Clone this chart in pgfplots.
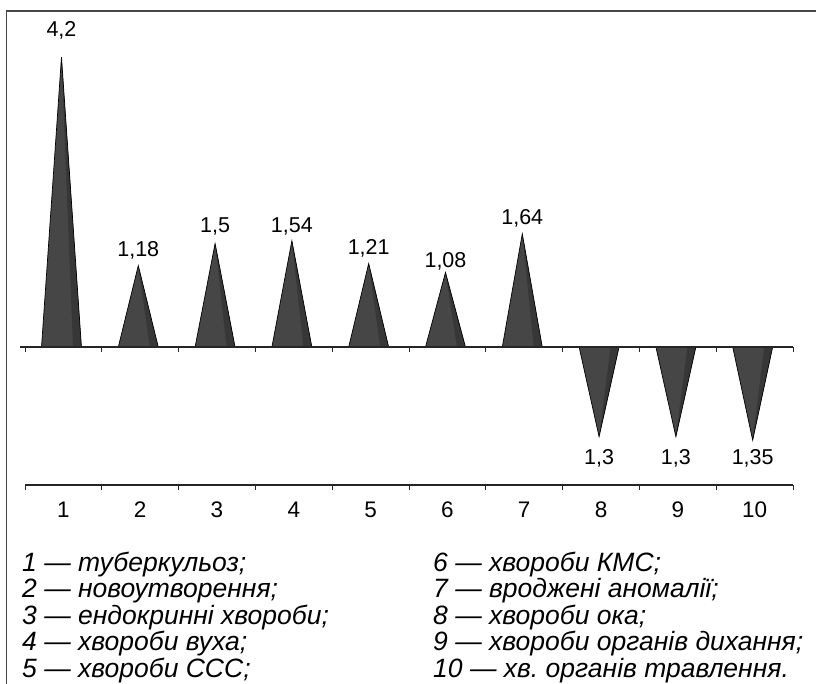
\documentclass[border=0pt]{standalone}
\usepackage{fontspec}
\setmainfont{Liberation Sans}
\usepackage{pgfplots}
\pgfplotsset{compat=1.18}
\frenchspacing

\definecolor{coneA}{RGB}{70,70,70}
\definecolor{coneB}{RGB}{55,55,55}
\definecolor{frame}{RGB}{70,70,70}

\newcommand{\valfont}{\fontsize{21.5}{24}\selectfont}
\newcommand{\legfont}{\fontsize{26.5}{28}\selectfont\itshape}

% #1 left, #2 apex x, #3 value, #4 start of dark side, #5 right
\newcommand{\cone}[5]{%
  \addplot[draw=none, fill=coneA] coordinates {(#1,0) (#2,#3) (#5,0)};
  \addplot[draw=none, fill=coneB] coordinates {(#4,0) (#2,#3) (#5,0)};
  \addplot[draw=black, line width=0.7pt] coordinates {(#1,0) (#2,#3) (#5,0)};
}

\begin{document}
\begin{tikzpicture}
\useasboundingbox (0,0) rectangle (816pt,683pt);
\draw[line width=1.6pt, frame] (6.5pt,-2pt) -- (6.5pt,672pt) -- (830pt,672pt);

\begin{axis}[
  at={(25pt,198pt)}, anchor=south west,
  scale only axis, width=768pt, height=476.1pt,
  xmin=0.5, xmax=10.5, ymin=-2, ymax=4.9,
  axis x line=bottom, axis y line=none,
  x axis line style={-, line width=1.4pt, black!85},
  xtick={1,2,3,4,5,6,7,8,9,10},
  xticklabels={1,2,3,4,5,6,7,8,9,10},
  major tick length=0pt,
  minor xtick={0.5,1.5,2.5,3.5,4.5,5.5,6.5,7.5,8.5,9.5,10.5},
  minor tick length=5pt, xtick align=outside,
  minor x tick style={line width=1pt, black!85},
  xticklabel style={font=\fontsize{22.5}{24}\selectfont, anchor=base, yshift=-32pt},
  clip=false,
]
\cone{0.715}{0.975}{4.2}{1.125}{1.235}
\cone{1.715}{1.975}{1.18}{2.125}{2.235}
\cone{2.715}{2.975}{1.5}{3.125}{3.235}
\cone{3.715}{3.975}{1.54}{4.125}{4.235}
\cone{4.715}{4.975}{1.21}{5.125}{5.235}
\cone{5.715}{5.975}{1.08}{6.125}{6.235}
\cone{6.715}{6.975}{1.64}{7.125}{7.235}
\cone{7.715}{7.975}{-1.3}{8.125}{8.235}
\cone{8.715}{8.975}{-1.3}{9.125}{9.235}
\cone{9.715}{9.975}{-1.35}{10.125}{10.235}

\node[anchor=base, yshift=21pt, font=\valfont] at (axis cs:0.975,4.2) {4,2};
\node[anchor=base, yshift=9.3pt, font=\valfont] at (axis cs:1.975,1.18) {1,18};
\node[anchor=base, yshift=11.3pt, font=\valfont] at (axis cs:2.975,1.5) {1,5};
\node[anchor=base, yshift=8.3pt, font=\valfont] at (axis cs:3.975,1.54) {1,54};
\node[anchor=base, yshift=8.8pt, font=\valfont] at (axis cs:4.975,1.21) {1,21};
\node[anchor=base, yshift=5.3pt, font=\valfont] at (axis cs:5.975,1.08) {1,08};
\node[anchor=base, yshift=9.6pt, font=\valfont] at (axis cs:6.975,1.64) {1,64};
\node[anchor=base, yshift=20pt, font=\valfont] at (axis cs:7.975,-2) {1,3};
\node[anchor=base, yshift=20pt, font=\valfont] at (axis cs:8.975,-2) {1,3};
\node[anchor=base, yshift=20pt, font=\valfont] at (axis cs:9.975,-2) {1,35};
\end{axis}

% baseline with its ticks
\begin{axis}[
  at={(25pt,336pt)}, anchor=south west,
  scale only axis, width=768pt, height=100pt,
  xmin=0.5, xmax=10.5, ymin=0, ymax=1,
  axis x line=bottom, axis y line=none,
  x axis line style={-, line width=1.4pt, black!85, shorten <=-5pt},
  xtick={0.5,1.5,2.5,3.5,4.5,5.5,6.5,7.5,8.5,9.5,10.5},
  xticklabels={,,,,,,,,,,,},
  xtick align=outside, major tick length=5pt,
  major x tick style={line width=1pt, black!85},
]
\end{axis}

\node[anchor=base west, inner sep=0pt, font=\legfont] at (22pt,112pt) {1 — туберкульоз;};
\node[anchor=base west, inner sep=0pt, font=\legfont] at (22pt,85.5pt) {2 — новоутворення;};
\node[anchor=base west, inner sep=0pt, font=\legfont] at (22pt,59pt) {3 — ендокринні хвороби;};
\node[anchor=base west, inner sep=0pt, font=\legfont] at (22pt,32.5pt) {4 — хвороби вуха;};
\node[anchor=base west, inner sep=0pt, font=\legfont] at (22pt,6pt) {5 — хвороби ССС;};
\node[anchor=base west, inner sep=0pt, font=\legfont] at (433pt,112pt) {6 — хвороби КМС;};
\node[anchor=base west, inner sep=0pt, font=\legfont] at (433pt,85.5pt) {7 — вроджені аномалії;};
\node[anchor=base west, inner sep=0pt, font=\legfont] at (433pt,59pt) {8 — хвороби ока;};
\node[anchor=base west, inner sep=0pt, font=\legfont] at (433pt,32.5pt) {9 — хвороби органів дихання;};
\node[anchor=base west, inner sep=0pt, font=\legfont] at (433pt,6pt) {10 — хв. органів травлення.};
\end{tikzpicture}
\end{document}
